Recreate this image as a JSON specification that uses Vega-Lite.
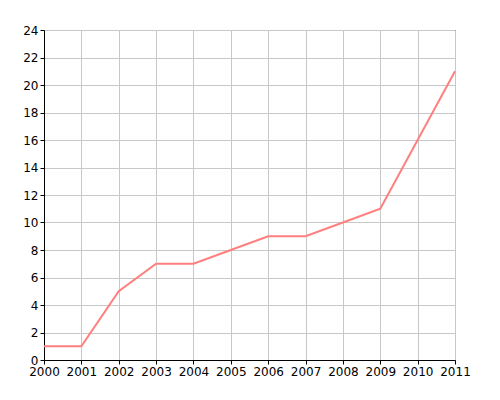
{
  "$schema": "https://vega.github.io/schema/vega-lite/v6.json",
  "autosize": {"type": "none"},
  "padding": {"left": 44, "top": 30, "right": 45, "bottom": 40},
  "width": 411,
  "height": 330,
  "config": {
    "view": {"stroke": "#000000", "strokeWidth": 1},
    "font": "DejaVu Sans",
    "axis": {
      "domainColor": "#000000",
      "domainWidth": 1,
      "tickColor": "#000000",
      "tickSize": 4,
      "gridColor": "#c8c8c8",
      "gridOpacity": 1,
      "labelColor": "#000000",
      "labelFontSize": 12,
      "labelFont": "DejaVu Sans",
      "title": null
    }
  },
  "data": {
    "values": [
      {"year": 2000, "value": 1},
      {"year": 2001, "value": 1},
      {"year": 2002, "value": 5},
      {"year": 2003, "value": 7},
      {"year": 2004, "value": 7},
      {"year": 2005, "value": 8},
      {"year": 2006, "value": 9},
      {"year": 2007, "value": 9},
      {"year": 2008, "value": 10},
      {"year": 2009, "value": 11},
      {"year": 2010, "value": 16},
      {"year": 2011, "value": 21}
    ]
  },
  "mark": {"type": "line", "color": "#ff7f7f", "strokeWidth": 2},
  "encoding": {
    "x": {
      "field": "year",
      "type": "quantitative",
      "scale": {"domain": [2000, 2011], "nice": false, "zero": false},
      "axis": {
        "values": [2000, 2001, 2002, 2003, 2004, 2005, 2006, 2007, 2008, 2009, 2010, 2011],
        "format": "d",
        "labelPadding": 2,
        "labelOverlap": false,
        "labelFlush": false
      }
    },
    "y": {
      "field": "value",
      "type": "quantitative",
      "scale": {"domain": [0, 24], "nice": false},
      "axis": {
        "values": [0, 2, 4, 6, 8, 10, 12, 14, 16, 18, 20, 22, 24],
        "labelPadding": 2
      }
    }
  }
}
